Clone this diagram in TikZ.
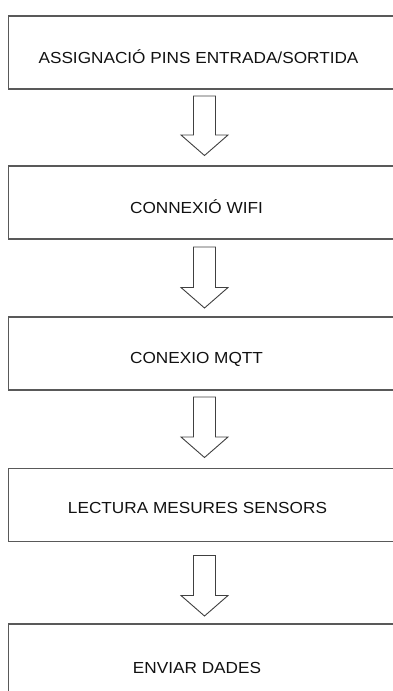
\documentclass[tikz,border=0pt]{standalone}
\usepackage{fontspec}
\setmainfont[FakeStretch=1.075]{Liberation Sans}
\usetikzlibrary{calc}
\definecolor{boxline}{HTML}{595959}
\definecolor{arrowline}{HTML}{404040}
\definecolor{labeltext}{HTML}{111111}

% Hollow block arrow from the box #1 down to the box #2;
% #3 = gap below #1, #4 = gap above #2
\newcommand\flowarrow[4]{%
  \coordinate (#1-out) at ($(#1.south)+(0,#3)$);
  \coordinate (#2-in) at ($(#2.north)+(0,-#4)$);
  \draw[blockarrow]
    ($(#1-out)+(-11,0)$) -- ($(#2-in)+(-11,-20.5)$) -- ($(#2-in)+(-23.5,-20.5)$)
    -- (#2-in)
    -- ($(#2-in)+(23.5,-20.5)$) -- ($(#2-in)+(11,-20.5)$) -- ($(#1-out)+(11,0)$) -- cycle;}

\begin{document}
\begin{tikzpicture}[x=1pt,y=-1pt,
  stagebox/.style={draw=boxline, line width=1.5pt, minimum width=392pt,
    minimum height=73pt, inner sep=0pt, outer sep=0pt},
  stagetext/.style={font=\fontsize{16}{19}\selectfont, text=labeltext,
    anchor=base, inner sep=0pt},
  blockarrow/.style={draw=arrowline, line width=0.9pt, fill=white, line join=miter}]
\useasboundingbox (0,0) rectangle (392,691);

% process stages
\node[stagebox] (b1) at (204.5,52.5) {};
\node[stagebox] (b2) at (204.5,202.5) {};
\node[stagebox] (b3) at (204.5,353.5) {};
\node[stagebox] (b4) at (204.5,505) {};
\node[stagebox] (b5) at (204.5,660.5) {};

\node[stagetext] (t1) at (198.5,63.3) {ASSIGNACIÓ PINS ENTRADA/SORTIDA};
\node[stagetext] (t2) at (196.5,213) {CONNEXIÓ WIFI};
\node[stagetext] (t3) at (196.5,363.3) {CONEXIO MQTT};
\node[stagetext] (t4) at (197.5,513) {LECTURA MESURES SENSORS};
\node[stagetext] (t5) at (197,673.3) {ENVIAR DADES};

% flow between stages
\flowarrow{b1}{b2}{7}{10.5}
\flowarrow{b2}{b3}{8}{9}
\flowarrow{b3}{b4}{7}{11}
\flowarrow{b4}{b5}{14}{8}
\end{tikzpicture}
\end{document}
